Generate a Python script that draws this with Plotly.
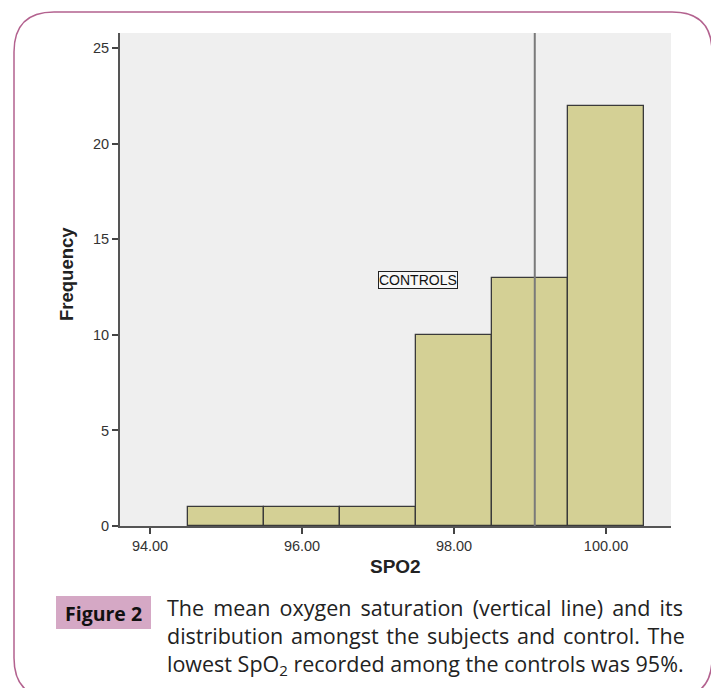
import plotly.graph_objects as go

# Data
spo2_bins = [95, 96, 97, 98, 99, 100]
frequency = [1, 1, 1, 10, 13, 22]
mean_spo2 = sum(b * f for b, f in zip(spo2_bins, frequency)) / sum(frequency)
x_ticks = [94, 96, 98, 100]
x_tick_labels = ["94.00", "96.00", "98.00", "100.00"]
y_ticks = [0, 5, 10, 15, 20, 25]
TS = "\u2009"  # thin space, used to imitate justified text
HS = "\u200a"  # hair space
caption_lines = [
    "The mean oxygen saturation (vertical line) and its".replace(" ", " " + TS),
    "distribution amongst the subjects and control. The".replace(" ", " " + HS),
    "lowest SpO<sub>2</sub> recorded among the controls was 95%.",
]

OFF = 8  # default page body margin
W, H = 719 - OFF, 688 - OFF
L, R, T, B = 120, 671, 33, 526  # plot area in page pixels


def px(x):
    return (x - L) / (R - L)


def py(y):
    return (B - y) / (B - T)


fig = go.Figure()
fig.add_trace(go.Bar(
    x=spo2_bins, y=frequency, width=1.0,
    marker=dict(color="#d4d095", line=dict(color="#3a3a3a", width=1.3)),
    hoverinfo="skip", showlegend=False,
))

shapes = []
shapes.append(dict(type="line", xref="x", yref="paper", x0=mean_spo2, x1=mean_spo2,
                   y0=0, y1=1, line=dict(color="#7a7a7a", width=2)))

x0, x1, y0, y1, r = 14, 712, 12, 698, 40
path = (f"M {px(x0+r)},{py(y0)} L {px(x1-r)},{py(y0)} Q {px(x1)},{py(y0)} {px(x1)},{py(y0+r)} "
        f"L {px(x1)},{py(y1-r)} Q {px(x1)},{py(y1)} {px(x1-r)},{py(y1)} "
        f"L {px(x0+r)},{py(y1)} Q {px(x0)},{py(y1)} {px(x0)},{py(y1-r)} "
        f"L {px(x0)},{py(y0+r)} Q {px(x0)},{py(y0)} {px(x0+r)},{py(y0)} Z")
shapes.append(dict(type="path", xref="paper", yref="paper", path=path,
                   line=dict(color="#b3628f", width=1.5), layer="below"))
shapes.append(dict(type="rect", xref="paper", yref="paper",
                   x0=px(56), x1=px(151), y0=py(629), y1=py(596),
                   fillcolor="#d5a8c5", line=dict(width=0), layer="below"))
fig.update_layout(shapes=shapes)

annotations = [
    dict(x=97.52, y=12.9, xref="x", yref="y", text="CONTROLS", showarrow=False,
         font=dict(family="Liberation Sans, Arial", size=14, color="#111"),
         bgcolor="#f7f7f7", bordercolor="#222", borderwidth=1, borderpad=0),
    dict(x=px(103.5), y=py(613), xref="paper", yref="paper", text="<b>Figure 2</b>",
         showarrow=False, font=dict(family="Open Sans, Lato", size=19.5, color="#111"),
         xanchor="center", yanchor="middle"),
    dict(x=px(66), y=py(274), xref="paper", yref="paper", text="<b>Frequency</b>",
         showarrow=False, textangle=-90, xanchor="center", yanchor="middle",
         font=dict(family="Liberation Sans, Arial", size=18.5, color="#222")),
    dict(x=px(395), y=py(566), xref="paper", yref="paper", text="<b>SPO2</b>",
         showarrow=False, xanchor="center", yanchor="middle",
         font=dict(family="Liberation Sans, Arial", size=19, color="#222")),
    dict(x=px(165), y=py(636), xref="paper", yref="paper", text="<br>".join(caption_lines),
         showarrow=False, xanchor="left", yanchor="middle", align="left",
         font=dict(family="Open Sans, Lato", size=21.5, color="#222")),
]
fig.update_layout(annotations=annotations)

fig.update_layout(
    width=W, height=H,
    margin=dict(l=L - OFF, r=719 - R, t=T - OFF, b=688 - B, pad=0),
    paper_bgcolor="white", plot_bgcolor="#efefef",
    bargap=0,
    xaxis=dict(range=[93.605, 100.855], tickvals=x_ticks, ticktext=x_tick_labels,
               ticks="outside", ticklen=6, tickwidth=1.5, tickcolor="#444",
               showline=True, linecolor="#555", linewidth=2, showgrid=False, zeroline=False,
               tickfont=dict(family="Liberation Sans, Arial", size=14.5, color="#333")),
    yaxis=dict(range=[0, 25.8], tickvals=y_ticks,
               ticks="outside", ticklen=6, tickwidth=1.5, tickcolor="#444",
               showline=True, linecolor="#555", linewidth=2, showgrid=False, zeroline=False,
               tickfont=dict(family="Liberation Sans, Arial", size=14.5, color="#333")),
)

fig.write_html("out.html")
